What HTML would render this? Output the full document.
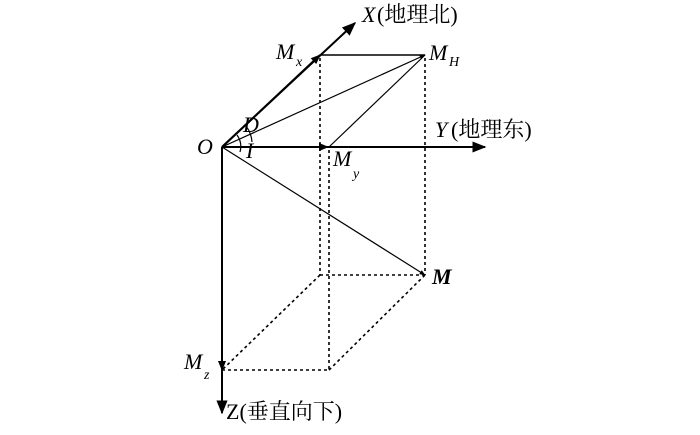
<!DOCTYPE html>
<html><head><style>body{margin:0;background:#fff}svg{display:block}</style></head><body>
<svg width="700" height="435" viewBox="0 0 700 435" xmlns="http://www.w3.org/2000/svg" font-family="Liberation Serif, Noto Serif CJK SC, serif" fill="#000">
<defs>
<marker id="a" viewBox="0 0 10 10" refX="9" refY="5" markerWidth="7" markerHeight="7" orient="auto"><path d="M0,1L10,5L0,9z"/></marker>
<marker id="s" viewBox="0 0 10 10" refX="9" refY="5" markerWidth="5" markerHeight="5" orient="auto"><path d="M0,1L10,5L0,9z"/></marker>
</defs>
<g stroke="#000" fill="none">
<line x1="222" y1="147" x2="355" y2="23" stroke-width="2" marker-end="url(#a)"/>
<line x1="222" y1="147" x2="485" y2="147" stroke-width="2" marker-end="url(#a)"/>
<line x1="222" y1="147" x2="222" y2="413" stroke-width="2" marker-end="url(#a)"/>
<line x1="222" y1="147" x2="320" y2="55" stroke-width="2" marker-end="url(#s)"/>
<line x1="222" y1="147" x2="328" y2="147" stroke-width="2" marker-end="url(#s)"/>
<line x1="222" y1="147" x2="222" y2="370" stroke-width="2" marker-end="url(#s)"/>
<line x1="320" y1="55" x2="425" y2="55" stroke-width="1.6"/>
<line x1="222" y1="147" x2="425" y2="55" stroke-width="1.2" marker-end="url(#s)"/>
<line x1="425" y1="55" x2="329" y2="147" stroke-width="1.2"/>
<line x1="222" y1="147" x2="425" y2="275" stroke-width="1.2" marker-end="url(#s)"/>
<g stroke-dasharray="3,3" stroke-width="1.6">
<line x1="320" y1="58" x2="320" y2="275"/>
<line x1="329" y1="150" x2="329" y2="370"/>
<line x1="425" y1="58" x2="425" y2="275"/>
<line x1="320" y1="275" x2="425" y2="275"/>
<line x1="320" y1="275" x2="222" y2="370"/>
<line x1="222" y1="370" x2="329" y2="370"/>
<line x1="329" y1="370" x2="425" y2="275"/>
</g>
<path d="M246,126 A30,30 0 0 1 252,142" stroke-width="1.2"/>
<path d="M237,135 A20,20 0 0 1 240,152" stroke-width="1.2"/>
</g>
<g font-size="22" font-style="italic">
<text x="362" y="22">X</text>
<text x="435" y="137">Y</text>
<text x="197" y="154">O</text>
<text x="243" y="132">D</text>
<text x="246" y="158">I</text>
<text x="276" y="59">M</text><text x="296" y="66" font-size="14">x</text>
<text x="429" y="60">M</text><text x="449" y="66" font-size="14">H</text>
<text x="333" y="166">M</text><text x="353" y="178" font-size="14">y</text>
<text x="184" y="369">M</text><text x="204" y="379" font-size="14">z</text>
<text x="432" y="284" font-weight="bold">M</text>
</g>
<g font-size="22">
<text x="377" y="22">(地理北)</text>
<text x="451" y="137">(地理东)</text>
<text x="226" y="419">Z(垂直向下)</text>
</g>
</svg>
</body></html>
